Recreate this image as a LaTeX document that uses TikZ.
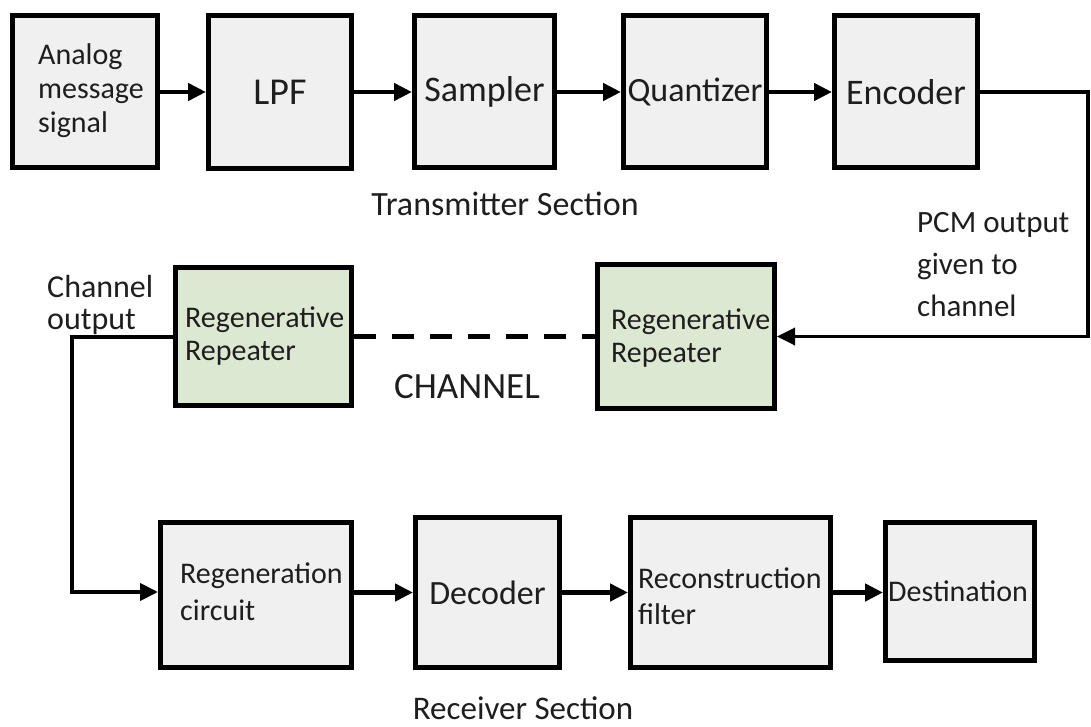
\documentclass[tikz,border=0pt]{standalone}
\usepackage{fontspec}
\setmainfont{Carlito}
\usetikzlibrary{arrows.meta}
\definecolor{boxgray}{RGB}{240,240,240}
\definecolor{boxgreen}{RGB}{221,232,210}
\definecolor{txt}{RGB}{30,30,30}
\begin{document}
\begin{tikzpicture}[x=1pt,y=-1pt,
  box/.style={draw=black, line width=5pt, fill=boxgray, inner sep=0pt, text=txt},
  gbox/.style={box, fill=boxgreen},
  lbl/.style={inner sep=0pt, text=txt, align=left},
  fs/.style n args={2}{font=\fontsize{#1}{#2}\selectfont},
  arr/.style={line width=4.5pt, -{Triangle[length=18pt,width=17pt]}},
  wire/.style={line width=4pt}]
\useasboundingbox (0,0) rectangle (1091,727);

% transmitter row
\node[box, minimum width=145pt, minimum height=152pt] (an) at (85,92) {};
\node[lbl, anchor=west, fs={30}{34}] (antxt) at (38,91) {Analog\\message\\signal};
\node[box, minimum width=143pt, minimum height=153pt, fs={38}{44}] (lpf) at (280,92) {LPF};
\node[box, minimum width=140pt, minimum height=152pt, fs={36}{42}] (samp) at (484.5,92) {\raisebox{-2pt}{Sampler}};
\node[box, minimum width=143pt, minimum height=152pt, fs={34}{40}] (quant) at (695,92) {Quantizer};
\node[box, minimum width=143pt, minimum height=152pt, fs={36}{42}] (enc) at (906,92) {Encoder};

% channel row
\node[gbox, minimum width=176pt, minimum height=138pt] (rr1) at (263.5,336.5) {};
\node[lbl, anchor=west, fs={30}{33}] (rr1txt) at (185,336) {Regenerative\\Repeater};
\node[gbox, minimum width=177pt, minimum height=144pt] (rr2) at (686,336.5) {};
\node[lbl, anchor=west, fs={30}{33}] (rr2txt) at (611,338) {Regenerative\\Repeater};

% receiver row
\node[box, minimum width=191pt, minimum height=145pt] (regc) at (256,595) {};
\node[lbl, anchor=west, fs={30}{37}] (regctxt) at (180,592) {Regeneration\\circuit};
\node[box, minimum width=144pt, minimum height=150pt, fs={34}{40}] (dec) at (487.5,592.5) {Decoder};
\node[box, minimum width=200pt, minimum height=150pt] (rec) at (730.5,592.5) {};
\node[lbl, anchor=west, fs={30}{36}] (rectxt) at (638,596) {Reconstruction\\filter};
\node[box, minimum width=149pt, minimum height=138pt] (dest) at (960,591.5) {};
\node[lbl, anchor=west, fs={30}{36}] (desttxt) at (888,591) {Destination};

% labels
\node[lbl, fs={34}{40}] (tx) at (505,204) {Transmitter Section};
\node[lbl, fs={37}{44}] (ch) at (467,387) {CHANNEL};
\node[lbl, fs={33}{40}] (rx) at (523,708) {Receiver Section};
\node[lbl, anchor=west, fs={32}{32}] (chout) at (47,305) {Channel\\output};
\node[lbl, anchor=west, fs={31}{42}] (pcm) at (917,265) {PCM output\\given to\\channel};

% connectors
\draw[arr] (an.east) -- (lpf.west);
\draw[arr] (lpf.east) -- (samp.west);
\draw[arr] (samp.east) -- (quant.west);
\draw[arr] (quant.east) -- (enc.west);

\coordinate (e1) at (1088,92);
\coordinate (e2) at (1088,336.5);
\draw[arr, line width=3.5pt] (enc.east) -- (e1) -- (e2) -- (rr2.east);

\draw[line width=5pt, dash pattern=on 22pt off 16pt] (rr1.east) -- (rr2.west);

\coordinate (l1) at (72,336.5);
\coordinate (l2) at (72,592);
\draw[arr, line width=4pt] (rr1.west) -- (l1) -- (l2) -- (regc.west |- l2);

\draw[arr] (regc.east |- dec.west) -- (dec.west);
\draw[arr] (dec.east) -- (rec.west);
\draw[arr] (rec.east) -- (rec.east -| dest.west);
\end{tikzpicture}
\end{document}
